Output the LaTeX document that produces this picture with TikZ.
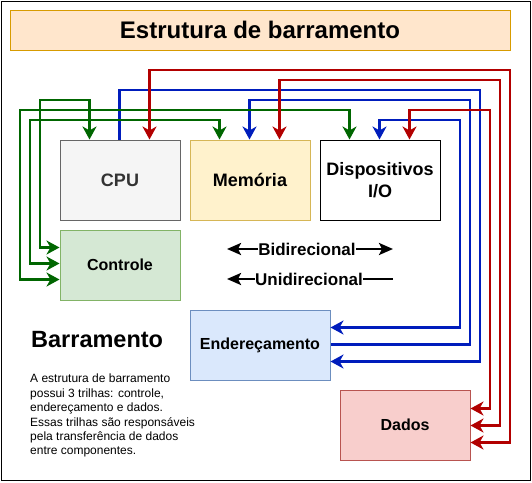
\documentclass[tikz,border=0pt]{standalone}
\usepackage{fontspec}
\setmainfont{Liberation Sans}
\usetikzlibrary{arrows.meta}

\definecolor{titlefill}{HTML}{FFE6CC}
\definecolor{titleline}{HTML}{D79B00}
\definecolor{cpufill}{HTML}{F5F5F5}
\definecolor{cpuline}{HTML}{666666}
\definecolor{cputext}{HTML}{333333}
\definecolor{memfill}{HTML}{FFF2CC}
\definecolor{memline}{HTML}{D6B656}
\definecolor{ctrlfill}{HTML}{D5E8D4}
\definecolor{ctrlline}{HTML}{82B366}
\definecolor{addrfill}{HTML}{DAE8FC}
\definecolor{addrline}{HTML}{6C8EBF}
\definecolor{datafill}{HTML}{F8CECC}
\definecolor{dataline}{HTML}{B85450}
\definecolor{ctrlwire}{HTML}{006600}
\definecolor{addrwire}{HTML}{001DBC}
\definecolor{datawire}{HTML}{B20000}

\begin{document}
\begin{tikzpicture}[x=1pt,y=-1pt,
  >={Stealth[length=13pt,width=14pt,inset=4pt]},
  box/.style={draw, line width=1pt, inner sep=0pt, align=center,
    font=\bfseries\fontsize{18}{21.6}\selectfont},
  smallbox/.style={box, font=\bfseries\fontsize{16}{19.2}\selectfont},
  ctrl/.style={draw=ctrlwire, line width=2.2pt},
  addr/.style={draw=addrwire, line width=2.2pt},
  data/.style={draw=datawire, line width=2.2pt},
  legend/.style={inner sep=0pt, font=\bfseries\fontsize{17}{20}\selectfont},
  leg/.style={line width=2.5pt, >={Stealth[length=14pt,width=12pt,inset=3pt]}}]
\useasboundingbox (0,0) rectangle (532,482);
\draw[line width=1pt] (1,1) rectangle (530,480);

\node[box, fill=titlefill, draw=titleline, minimum width=500pt, minimum height=40pt,
  font=\bfseries\fontsize{24}{28}\selectfont] (title) at (260,30) {Estrutura de barramento};

\node[box, fill=cpufill, draw=cpuline, text=cputext, minimum width=120pt, minimum height=80pt] (cpu) at (120,180) {CPU};
\node[box, fill=memfill, draw=memline, minimum width=120pt, minimum height=80pt] (memoria) at (250,180) {Memória};
\node[box, fill=white, draw=black, minimum width=120pt, minimum height=80pt] (dispositivos) at (380,180) {Dispositivos\\I/O};

\node[smallbox, fill=ctrlfill, draw=ctrlline, minimum width=120pt, minimum height=70pt] (controle) at (120,265) {Controle};
\node[smallbox, fill=addrfill, draw=addrline, minimum width=140pt, minimum height=70pt] (enderecamento) at (260,345) {Endereçamento};
\node[smallbox, fill=datafill, draw=dataline, minimum width=130pt, minimum height=70pt] (dados) at (405,425) {Dados};

% enderecamento
\draw[addr,->] ([xshift=60]cpu.north west) |- (480,90) |- ([yshift=-52]enderecamento.north east);
\draw[addr,<-] ([xshift=60]memoria.north west) |- (470,100) |- ([yshift=-35]enderecamento.north east);
\draw[addr,<->] ([xshift=60]dispositivos.north west) |- (460,120) |- ([yshift=-18]enderecamento.north east);

% controle
\draw[ctrl,<->] ([xshift=30]cpu.north west) |- (40,100) |- ([yshift=-18]controle.north west);
\draw[ctrl,<->] ([xshift=30]memoria.north west) |- (30,120) |- ([yshift=-34]controle.north west);
\draw[ctrl,<->] ([xshift=30]dispositivos.north west) |- (20,110) |- ([yshift=-50]controle.north west);

% dados
\draw[data,<->] ([xshift=90]cpu.north west) |- (510,70) |- ([yshift=-53]dados.north east);
\draw[data,<->] ([xshift=90]memoria.north west) |- (500,80) |- ([yshift=-36]dados.north east);
\draw[data,<->] ([xshift=90]dispositivos.north west) |- (490,110) |- ([yshift=-19]dados.north east);

\node[legend] (bidi) at (307,249) {Bidirecional};
\coordinate (bidiL) at (227,249);
\coordinate (bidiR) at (393,249);
\draw[leg,->] (bidi.west) -- (bidiL);
\draw[leg,->] (bidi.east) -- (bidiR);

\node[legend] (unidi) at (309,279) {Unidirecional};
\coordinate (unidiL) at (227,279);
\coordinate (unidiR) at (393,279);
\draw[leg,->] (unidi.west) -- (unidiL);
\draw[leg] (unidi.east) -- (unidiR);

\node[anchor=base west, inner sep=0pt, font=\bfseries\fontsize{23.5}{28}\selectfont] (barramento) at (31,347) {Barramento};
\node[anchor=north west, inner sep=0pt, align=left, font=\fontsize{12}{14.4}\selectfont] (descricao) at (30,374)
  {A estrutura de barramento\\possui 3 trilhas: controle,\\endereçamento e dados.\\Essas trilhas são responsáveis\\pela transferência de dados\\entre componentes.};

\end{tikzpicture}
\end{document}
